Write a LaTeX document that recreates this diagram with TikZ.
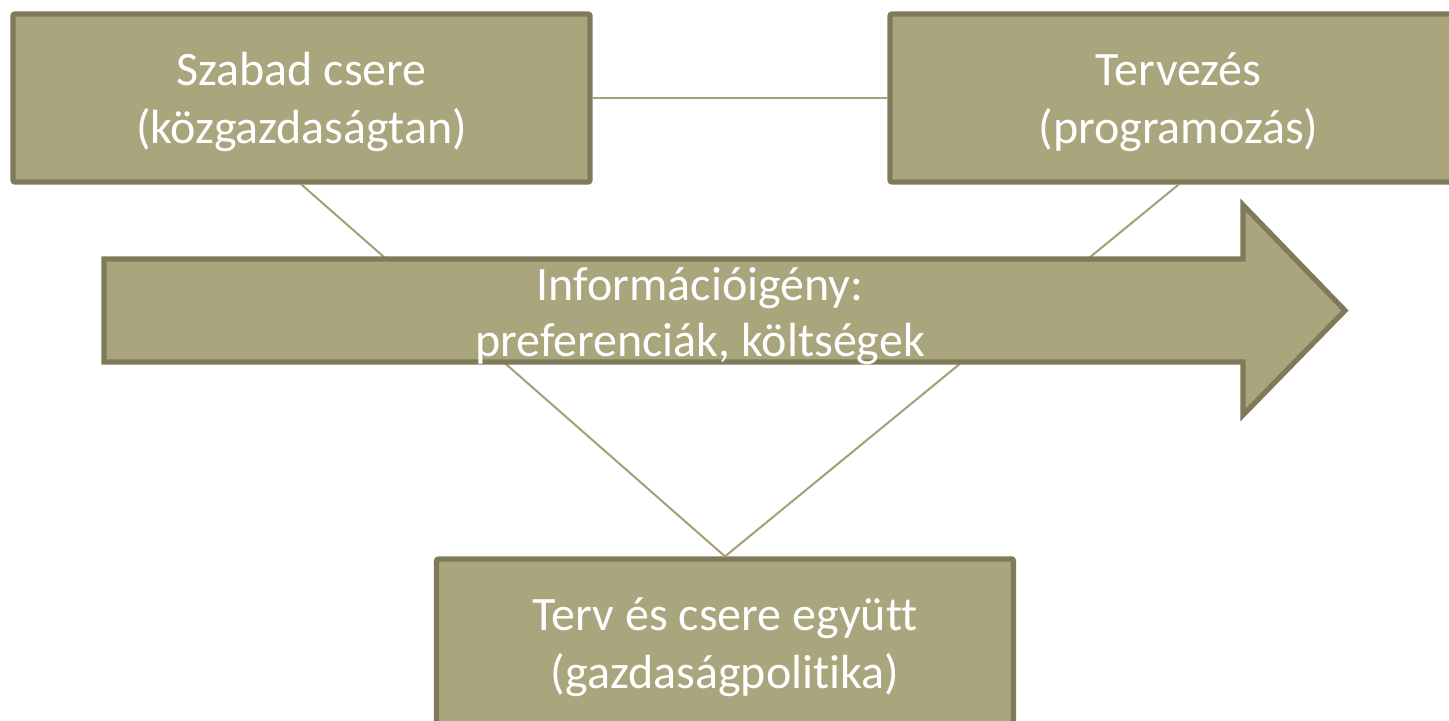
\documentclass[tikz,border=0pt]{standalone}
\usepackage{fontspec}
\setmainfont[Ligatures=NoCommon]{Carlito}
\definecolor{boxfill}{HTML}{A9A57C}
\definecolor{boxedge}{HTML}{7E7A5A}
\definecolor{linkc}{HTML}{A39F76}
\tikzset{
  box/.style={draw=boxedge, line width=2.6pt, fill=boxfill, rounded corners=1pt,
    minimum width=288.5pt, minimum height=84pt, inner sep=0pt},
  link/.style={draw=linkc, line width=1pt},
  bigarrow/.style={draw=boxedge, line width=2.6pt, fill=boxfill, line join=miter},
  lbl/.style={text=white, align=center, font=\fontsize{24}{29}\selectfont, inner sep=0pt}
}
\begin{document}
\begin{tikzpicture}[x=0.5pt,y=-0.5pt]
\useasboundingbox (0,0) rectangle (1449,721);
\clip (0,0) rectangle (1449,721);
\node[box] (A) at (301.5,98) {};
\node[box] (B) at (1178.5,98) {};
\node[box] (C) at (725,643) {};
\node[lbl] (Atext) at ([yshift=-2pt]A.center) {Szabad csere\\(közgazdaságtan)};
\node[lbl] (Btext) at ([yshift=-2pt]B.center) {Tervezés\\(programozás)};
\node[lbl] (Ctext) at ([yshift=-2pt]C.center) {Terv és csere együtt\\(gazdaságpolitika)};
\draw[link] (A.east) -- (B.west);
\draw[link] (A.south) -- (C.north);
\draw[link] (B.south) -- (C.north);
\coordinate (t1) at (104,259);
\coordinate (t2) at (1243,259);
\coordinate (t3) at (1243,205);
\coordinate (tip) at (1345,310.5);
\coordinate (t4) at (1243,415);
\coordinate (t5) at (1243,362);
\coordinate (t6) at (104,362);
\draw[bigarrow] (t1) -- (t2) -- (t3) -- (tip) -- (t4) -- (t5) -- (t6) -- cycle;
\node[lbl, font=\fontsize{24}{28}\selectfont] (info) at (700,316) {Információigény:\\preferenciák, költségek};
\end{tikzpicture}
\end{document}
